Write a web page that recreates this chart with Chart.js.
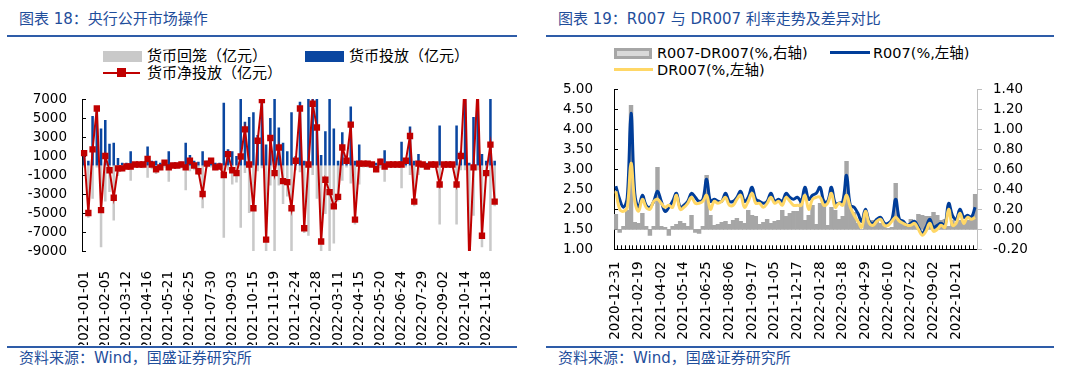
<!DOCTYPE html>
<html lang="zh-CN">
<head>
<meta charset="UTF-8">
<title>央行公开市场操作 / R007与DR007利率</title>
<script src="https://cdn.jsdelivr.net/npm/chart.js"></script>
<style>
    body {
        margin: 0;
        background: #fff;
        font-family: "DejaVu Sans", "Noto Sans CJK SC", sans-serif;
    }
    #page {
        position: relative;
        width: 1071px;
        height: 375px;
        overflow: hidden;
        background: #fff;
    }
    .title {
        position: absolute;
        top: 10px;
        font-size: 15px;
        line-height: 18px;
        color: #1F4E9B;
        white-space: nowrap;
    }
    .rule {
        position: absolute;
        height: 2px;
        background: #2E5CA8;
    }
    .source {
        position: absolute;
        top: 349px;
        font-size: 15px;
        line-height: 18px;
        color: #1F4E9B;
        white-space: nowrap;
    }
    canvas {
        position: absolute;
        top: 40px;
    }
    .lg {
        position: absolute;
        font-size: 15px;
        line-height: 18px;
        color: #000;
        white-space: nowrap;
    }
    .lg2 {
        position: absolute;
        font-size: 14.5px;
        line-height: 18px;
        color: #000;
        white-space: nowrap;
    }
    .sw {
        position: absolute;
        box-sizing: border-box;
    }
</style>
</head>
<body>
<div id="page">
    <!-- 左图 -->
    <div class="title" style="left:19px;">图表 18：央行公开市场操作</div>
    <div class="rule" style="left:7px; top:35px; width:510px;"></div>
    <div class="sw" style="left:103px; top:51px; width:39px; height:11px; background:#C9C9C9;"></div>
    <div class="lg" style="left:147px; top:47px;">货币回笼（亿元）</div>
    <div class="sw" style="left:305px; top:51px; width:39px; height:11px; background:#0A46A0;"></div>
    <div class="lg" style="left:349px; top:47px;">货币投放（亿元）</div>
    <div class="sw" style="left:103px; top:72px; width:37px; height:2px; background:#C00000;"></div>
    <div class="sw" style="left:117px; top:68px; width:9px; height:9px; background:#C00000;"></div>
    <div class="lg" style="left:147px; top:64px;">货币净投放（亿元）</div>
    <canvas id="omoChart" width="515" height="305" style="left:8px;"></canvas>
    <div class="rule" style="left:7px; top:346px; width:510px;"></div>
    <div class="source" style="left:19px;">资料来源：Wind，国盛证券研究所</div>

    <!-- 右图 -->
    <div class="title" style="left:558px;">图表 19：R007 与 DR007 利率走势及差异对比</div>
    <div class="rule" style="left:546px; top:35px; width:508px;"></div>
    <div class="sw" style="left:614px; top:48px; width:38px; height:11px; background:#D9D9D9; border:3px solid #A6A6A6;"></div>
    <div class="lg2" style="left:657px; top:44px;">R007-DR007(%,右轴)</div>
    <div class="sw" style="left:830px; top:51px; width:40px; height:3px; background:#003D99;"></div>
    <div class="lg2" style="left:873px; top:44px;">R007(%,左轴)</div>
    <div class="sw" style="left:614px; top:68px; width:39px; height:3px; background:#FFD766;"></div>
    <div class="lg2" style="left:657px; top:61px;">DR007(%,左轴)</div>
    <canvas id="rateChart" width="517" height="305" style="left:546px;"></canvas>
    <div class="rule" style="left:546px; top:346px; width:508px;"></div>
    <div class="source" style="left:558px;">资料来源：Wind，国盛证券研究所</div>
</div>

<script>
    // 央行公开市场操作（周度）
    const weekLabels = [
        '2021-01-01','2021-01-08','2021-01-15','2021-01-22','2021-01-29',
        '2021-02-05','2021-02-12','2021-02-19','2021-02-26','2021-03-05',
        '2021-03-12','2021-03-19','2021-03-26','2021-04-02','2021-04-09',
        '2021-04-16','2021-04-23','2021-04-30','2021-05-07','2021-05-14',
        '2021-05-21','2021-05-28','2021-06-04','2021-06-11','2021-06-18',
        '2021-06-25','2021-07-02','2021-07-09','2021-07-16','2021-07-23',
        '2021-07-30','2021-08-06','2021-08-13','2021-08-20','2021-08-27',
        '2021-09-03','2021-09-10','2021-09-17','2021-09-24','2021-10-08',
        '2021-10-15','2021-10-22','2021-10-29','2021-11-05','2021-11-12',
        '2021-11-19','2021-11-26','2021-12-03','2021-12-10','2021-12-17',
        '2021-12-24','2021-12-31','2022-01-07','2022-01-14','2022-01-21',
        '2022-01-28','2022-02-11','2022-02-18','2022-02-25','2022-03-04',
        '2022-03-11','2022-03-18','2022-03-25','2022-04-01','2022-04-08',
        '2022-04-15','2022-04-22','2022-04-29','2022-05-06','2022-05-13',
        '2022-05-20','2022-05-27','2022-06-03','2022-06-10','2022-06-17',
        '2022-06-24','2022-07-01','2022-07-08','2022-07-15','2022-07-22',
        '2022-07-29','2022-08-05','2022-08-12','2022-08-19','2022-08-26',
        '2022-09-02','2022-09-09','2022-09-16','2022-09-23','2022-09-30',
        '2022-10-14','2022-10-21','2022-10-28','2022-11-04','2022-11-11',
        '2022-11-18','2022-11-25','2022-12-02'
    ];
    const injection = [
        1500, 500, 5200, 6200, 3900, 4800, 2300, 2400, 800, 300,
        300, 1500, 300, 300, 400, 2000, 500, 500, 300, 500,
        1500, 300, 300, 400, 2400, 1100, 500, 400, 1500, 500,
        700, 300, 300, 6600, 1700, 1500, 1000, 7500, 4600, 5100,
        5600, 3200, 7200, 2200, 5000, 8500, 4000, 2400, 1500, 5600,
        1000, 6700, 500, 7500, 7500, 7500, 1100, 3600, 7500, 3900,
        500, 3500, 700, 6200, 500, 2200, 400, 400, 300, 300,
        700, 1600, 300, 300, 300, 2500, 700, 4100, 500, 1200,
        300, 300, 300, 300, 4200, 300, 300, 300, 4200, 1500,
        10000, 300, 5100, 9000, 1200, 500, 11500, 500
    ];
    const withdrawal = [
        -200, -5500, -3500, -200, -8600, -3800, -2800, -5800, -1100, -600,
        -400, -1600, -200, -200, -300, -1300, -400, -900, -500, -200,
        -1700, -300, -300, -300, -2600, -600, -500, -1000, -4500, -300,
        -200, -500, -400, -7600, -500, -2000, -1800, -6550, -800, -5000,
        -10100, -600, -300, -10000, -2100, -9300, -2100, -4050, -3250, -10100,
        -500, -700, -7100, -7400, -1000, -3500, -9100, -5100, -10300, -8200,
        -3800, -1600, -200, -1900, -6200, -2000, -200, -200, -200, -700,
        -300, -1700, -200, -200, -200, -2400, -200, -1000, -4300, -1000,
        -200, -400, -200, -200, -6200, -200, -200, -200, -6200, -500,
        -500, -10800, -5300, -500, -8600, -1300, -9300, -4300
    ];
    const netInjection = [
        1300, -5000, 1700, 6000, -4700, 1000, -500, -3400, -300, -300,
        -100, -100, 100, 100, 100, 700, 100, -400, -200, 300,
        -200, 0, 0, 100, -200, 500, 0, -600, -3000, 200,
        500, -200, -100, -1000, 1200, -500, -800, 950, 3800, 100,
        -4500, 2600, 6900, -7800, 2900, -800, 1900, -1650, -1750, -4500,
        500, 6000, -6600, 100, 6500, 4000, -8000, -1500, -2800, -4300,
        -3300, 1900, 500, 4300, -5700, 200, 200, 200, 100, -400,
        400, -100, 100, 100, 100, 100, 500, 3100, -3800, 200,
        100, -100, 100, 100, -2000, 100, 100, 100, -2000, 1000,
        9500, -10500, -200, 8500, -7400, -800, 2200, -3800
    ];

    // R007 与 DR007（周度）
    const rateDates = [
        '2020-12-31','2021-01-08','2021-01-15','2021-01-22','2021-01-29','2021-02-05',
        '2021-02-19','2021-02-26','2021-03-05','2021-03-12','2021-03-19','2021-03-26',
        '2021-04-02','2021-04-09','2021-04-16','2021-04-23','2021-04-30','2021-05-07',
        '2021-05-14','2021-05-21','2021-05-28','2021-06-04','2021-06-11','2021-06-18',
        '2021-06-25','2021-07-02','2021-07-09','2021-07-16','2021-07-23','2021-07-30',
        '2021-08-06','2021-08-13','2021-08-20','2021-08-27','2021-09-03','2021-09-10',
        '2021-09-17','2021-09-24','2021-10-08','2021-10-15','2021-10-22','2021-10-29',
        '2021-11-05','2021-11-12','2021-11-19','2021-11-26','2021-12-03','2021-12-10',
        '2021-12-17','2021-12-24','2021-12-31','2022-01-07','2022-01-14','2022-01-21',
        '2022-01-28','2022-02-11','2022-02-18','2022-02-25','2022-03-04','2022-03-11',
        '2022-03-18','2022-03-25','2022-04-01','2022-04-08','2022-04-15','2022-04-22',
        '2022-04-29','2022-05-06','2022-05-13','2022-05-20','2022-05-27','2022-06-03',
        '2022-06-10','2022-06-17','2022-06-24','2022-07-01','2022-07-08','2022-07-15',
        '2022-07-22','2022-07-29','2022-08-05','2022-08-12','2022-08-19','2022-08-26',
        '2022-09-02','2022-09-09','2022-09-16','2022-09-23','2022-09-30','2022-10-14',
        '2022-10-21','2022-10-28','2022-11-04','2022-11-11','2022-11-18','2022-11-25'
    ];
    const r007 = [
        2.58, 2.25, 2.05, 2.30, 4.40, 2.40, 2.05, 2.35, 2.10, 2.05,
        2.20, 2.45, 2.20, 1.95, 2.05, 2.20, 2.40, 2.05, 2.10, 2.20,
        2.40, 2.30, 2.20, 2.25, 2.75, 2.20, 2.25, 2.20, 2.20, 2.40,
        2.20, 2.20, 2.30, 2.45, 2.20, 2.30, 2.55, 2.25, 2.20, 2.15,
        2.20, 2.40, 2.20, 2.25, 2.20, 2.40, 2.30, 2.25, 2.30, 2.20,
        2.55, 2.25, 2.35, 2.40, 2.55, 2.20, 2.20, 2.55, 2.15, 2.15,
        2.20, 2.85, 2.10, 2.05, 1.90, 1.70, 2.00, 1.70, 1.65, 1.75,
        1.80, 1.65, 1.65, 1.75, 2.25, 1.75, 1.70, 1.60, 1.65, 1.70,
        1.55, 1.40, 1.55, 1.75, 1.55, 1.60, 1.65, 1.60, 2.15, 1.85,
        1.75, 2.00, 1.80, 1.85, 1.80, 2.05
    ];
    const dr007 = [
        2.45, 2.00, 1.95, 2.05, 3.15, 2.20, 1.95, 2.25, 2.05, 2.00,
        2.20, 2.25, 2.15, 2.05, 2.10, 2.05, 2.35, 2.00, 2.05, 2.15,
        2.30, 2.15, 2.15, 2.20, 2.35, 2.00, 2.20, 2.15, 2.20, 2.30,
        2.10, 2.10, 2.25, 2.35, 2.05, 2.20, 2.40, 2.15, 2.15, 2.05,
        2.15, 2.30, 2.15, 2.20, 2.10, 2.30, 2.20, 2.10, 2.10, 2.10,
        2.35, 2.00, 2.25, 2.30, 2.30, 2.10, 2.15, 2.40, 2.05, 2.15,
        2.10, 2.35, 2.05, 1.85, 1.70, 1.55, 1.95, 1.65, 1.60, 1.70,
        1.75, 1.60, 1.60, 1.70, 1.80, 1.70, 1.65, 1.60, 1.60, 1.65,
        1.50, 1.35, 1.45, 1.65, 1.45, 1.50, 1.60, 1.55, 2.00, 1.60,
        1.65, 1.90, 1.65, 1.80, 1.75, 1.80
    ];
    const spread = [
        0.15, -0.03, 0.03, 0.19, 1.24, 0.07, 0.06, 0.16, 0.03, -0.06,
        0.03, 0.62, 0.03, 0.02, -0.06, 0.03, 0.05, 0.08, 0.06, 0.03,
        0.14, -0.03, -0.04, 0.03, 0.54, 0.14, 0.04, 0.05, 0.07, 0.08,
        0.05, 0.09, 0.11, 0.08, 0.06, 0.19, 0.14, 0.13, 0.05, 0.07,
        0.10, 0.06, 0.08, 0.09, 0.19, 0.13, 0.16, 0.18, 0.18, 0.27,
        0.09, 0.14, 0.24, 0.05, 0.26, 0.28, 0.04, 0.22, 0.19, 0.10,
        0.13, 0.68, 0.24, 0.17, 0.06, 0.00, 0.13, 0.09, 0.09, 0.08,
        0.06, 0.03, 0.01, 0.02, 0.46, 0.08, 0.06, 0.05, 0.10, 0.06,
        0.15, 0.14, 0.13, 0.13, 0.17, 0.14, 0.09, 0.10, 0.03, 0.09,
        0.06, 0.09, 0.06, 0.09, 0.12, 0.35
    ];

    Chart.defaults.font.family = '"DejaVu Sans", "Noto Sans CJK SC", sans-serif';
    Chart.defaults.font.size = 13.5;
    Chart.defaults.color = '#000';

    function fmt2(v) {
        if (Math.abs(v) < 1e-9) return '0.00';
        return v.toFixed(2);
    }

    // 左图：央行公开市场操作
    new Chart(document.getElementById('omoChart'), {
        type: 'bar',
        data: {
            labels: weekLabels,
            datasets: [
                {
                    type: 'line',
                    label: '货币净投放（亿元）',
                    data: netInjection,
                    borderColor: '#C00000',
                    backgroundColor: '#C00000',
                    borderWidth: 2,
                    pointStyle: 'rect',
                    pointRadius: 4.5,
                    pointHoverRadius: 4.5,
                    pointBorderWidth: 0,
                    tension: 0,
                    order: 0
                },
                {
                    label: '货币投放（亿元）',
                    data: injection,
                    backgroundColor: '#0A46A0',
                    barPercentage: 0.6,
                    categoryPercentage: 1,
                    order: 1
                },
                {
                    label: '货币回笼（亿元）',
                    data: withdrawal,
                    backgroundColor: '#C9C9C9',
                    barPercentage: 0.6,
                    categoryPercentage: 1,
                    order: 2
                }
            ]
        },
        options: {
            responsive: false,
            animation: false,
            devicePixelRatio: 1,
            layout: { padding: { top: 59, right: 26, left: 0, bottom: 0 } },
            plugins: { legend: { display: false }, tooltip: { enabled: false } },
            scales: {
                x: {
                    stacked: true,
                    grid: { display: false },
                    border: { display: false },
                    ticks: {
                        autoSkip: false,
                        minRotation: 90,
                        maxRotation: 90,
                        padding: 12,
                        callback: (v, i) => (i % 5 === 0 ? weekLabels[i] : '')
                    },
                    afterFit: s => { s.height = 94; }
                },
                y: {
                    stacked: false,
                    min: -9000,
                    max: 7000,
                    ticks: {
                        stepSize: 2000,
                        autoSkip: false,
                        padding: 19,
                        callback: v => String(v)
                    },
                    grid: {
                        color: c => (c.tick && c.tick.value === 0 ? '#000' : 'rgba(0,0,0,0)'),
                        tickColor: '#000',
                        tickLength: -4
                    },
                    border: { color: '#000' },
                    afterFit: s => { s.width = 74; }
                }
            }
        }
    });

    // 右图：R007 与 DR007 利率走势及差异
    new Chart(document.getElementById('rateChart'), {
        type: 'bar',
        data: {
            labels: rateDates,
            datasets: [
                {
                    label: 'R007-DR007(%,右轴)',
                    data: spread,
                    yAxisID: 'y1',
                    backgroundColor: '#A6A6A6',
                    barPercentage: 1,
                    categoryPercentage: 1,
                    order: 3
                },
                {
                    type: 'line',
                    label: 'R007(%,左轴)',
                    data: r007,
                    yAxisID: 'y',
                    borderColor: '#003D99',
                    borderWidth: 3,
                    pointRadius: 0,
                    tension: 0.4,
                    order: 2
                },
                {
                    type: 'line',
                    label: 'DR007(%,左轴)',
                    data: dr007,
                    yAxisID: 'y',
                    borderColor: '#FFD766',
                    borderWidth: 3,
                    pointRadius: 0,
                    tension: 0.4,
                    order: 1
                }
            ]
        },
        options: {
            responsive: false,
            animation: false,
            devicePixelRatio: 1,
            layout: { padding: { top: 49.3, right: 0, left: 0, bottom: 0 } },
            plugins: { legend: { display: false }, tooltip: { enabled: false } },
            scales: {
                x: {
                    grid: { drawOnChartArea: false, tickLength: -4, tickColor: '#000' },
                    border: { color: '#000' },
                    ticks: {
                        autoSkip: false,
                        minRotation: 90,
                        maxRotation: 90,
                        padding: 16,
                        callback: (v, i) => (i % 6 === 0 ? rateDates[i] : '')
                    },
                    afterFit: s => { s.height = 95.7; }
                },
                y: {
                    position: 'left',
                    min: 1,
                    max: 5,
                    ticks: { stepSize: 0.5, autoSkip: false, padding: 25, callback: v => fmt2(v) },
                    grid: { drawOnChartArea: false, tickLength: -4, tickColor: '#000' },
                    border: { color: '#000' },
                    afterFit: s => { s.width = 68; }
                },
                y1: {
                    position: 'right',
                    min: -0.2,
                    max: 1.4,
                    ticks: { stepSize: 0.2, autoSkip: false, padding: 11, callback: v => fmt2(v) },
                    grid: { drawOnChartArea: false, tickLength: 5, tickColor: '#BFBFBF' },
                    border: { color: '#BFBFBF' },
                    afterFit: s => { s.width = 86; }
                }
            }
        }
    });
</script>
</body>
</html>
